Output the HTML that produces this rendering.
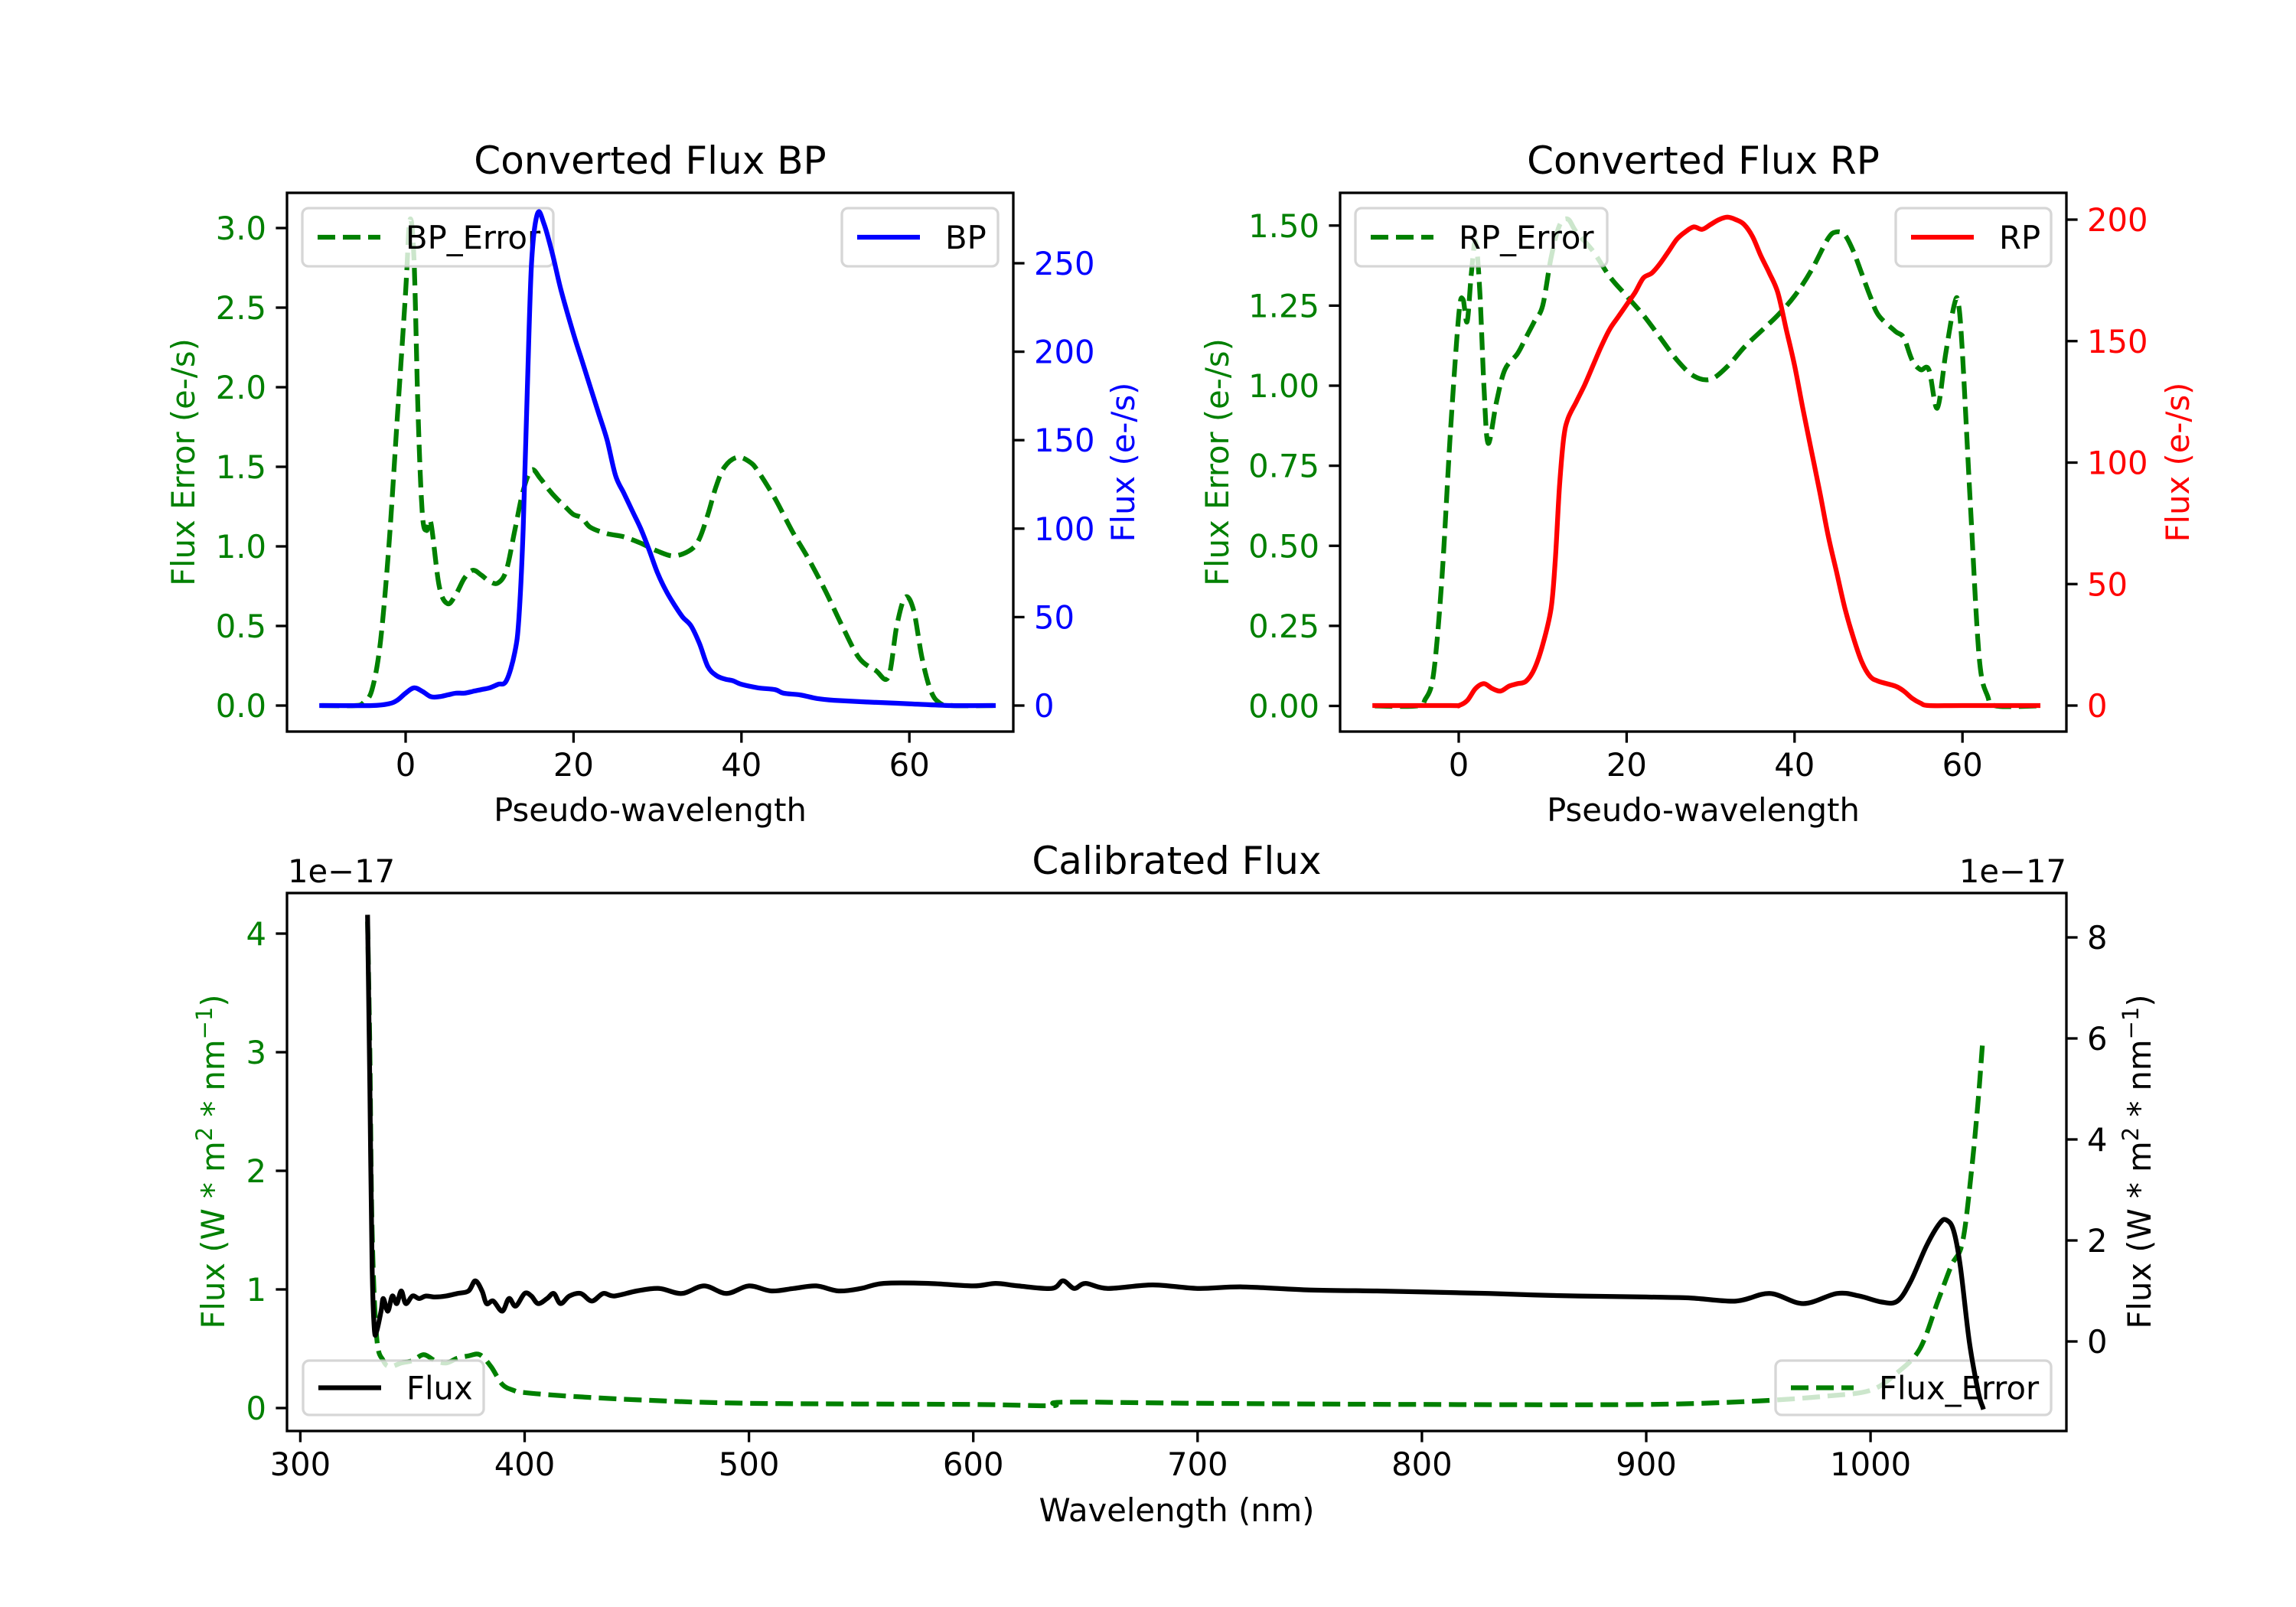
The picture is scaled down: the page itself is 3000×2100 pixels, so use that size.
<!DOCTYPE html>
<html><head><meta charset="utf-8">
<style>
html,body{margin:0;padding:0;background:#fff;}
svg{display:block;font-family:"DejaVu Sans","Liberation Sans",sans-serif;}
</style></head>
<body>
<svg id="s" width="3000" height="2100" viewBox="0 0 3000 2100" xmlns="http://www.w3.org/2000/svg">
<rect width="3000" height="2100" fill="#fff"/>
<g id="plot"></g>
<!-- Titles -->
<g font-size="50" fill="#000" text-anchor="middle">
<text x="849.5" y="227">Converted Flux BP</text>
<text x="2225.5" y="227">Converted Flux RP</text>
<text x="1537.5" y="1142">Calibrated Flux</text>
</g>
<g font-size="41.7" fill="#000" text-anchor="middle">
<text x="849.5" y="1073">Pseudo-wavelength</text>
<text x="2225.5" y="1073">Pseudo-wavelength</text>
<text x="1537.5" y="1988">Wavelength (nm)</text>
</g>
<!-- y labels -->
<g font-size="41.7" text-anchor="middle">
<text transform="translate(254,604) rotate(-90)" fill="#008000">Flux Error (e-/s)</text>
<text transform="translate(1482,604) rotate(-90)" fill="#0000ff">Flux (e-/s)</text>
<text transform="translate(1605,604) rotate(-90)" fill="#008000">Flux Error (e-/s)</text>
<text transform="translate(2860,604) rotate(-90)" fill="#ff0000">Flux (e-/s)</text>
<text transform="translate(293,1518) rotate(-90)" fill="#008000">Flux (W * m<tspan dy="-16" font-size="29">2</tspan><tspan dy="16"> * nm</tspan><tspan dy="-16" font-size="29">−1</tspan><tspan dy="16">)</tspan></text>
<text transform="translate(2810,1518) rotate(-90)" fill="#000">Flux (W * m<tspan dy="-16" font-size="29">2</tspan><tspan dy="16"> * nm</tspan><tspan dy="-16" font-size="29">−1</tspan><tspan dy="16">)</tspan></text>
</g>
<g font-size="41.7" fill="#000">
<text x="376" y="1153">1e−17</text>
<text x="2700" y="1153" text-anchor="end">1e−17</text>
</g>
</svg>
<script>
(function(){
var NS="http://www.w3.org/2000/svg";
var g=document.getElementById('plot');
function el(t,a,txt){var e=document.createElementNS(NS,t);for(var k in a)e.setAttribute(k,a[k]);if(txt!==undefined)e.textContent=txt;g.appendChild(e);return e;}
function smooth(pts){
 var d="M"+pts[0][0].toFixed(1)+","+pts[0][1].toFixed(1);
 for(var i=0;i<pts.length-1;i++){
  var p0=pts[i-1]||pts[i],p1=pts[i],p2=pts[i+1],p3=pts[i+2]||p2;
  var c1=[p1[0]+(p2[0]-p0[0])/6,p1[1]+(p2[1]-p0[1])/6];
  var c2=[p2[0]-(p3[0]-p1[0])/6,p2[1]-(p3[1]-p1[1])/6];
  d+=" C"+c1[0].toFixed(1)+","+c1[1].toFixed(1)+" "+c2[0].toFixed(1)+","+c2[1].toFixed(1)+" "+p2[0].toFixed(1)+","+p2[1].toFixed(1);
 }
 return d;
}
function line(data,fx,fy,color,dash){
 var pts=data.map(function(p){return [fx(p[0]),fy(p[1])];});
 var a={d:smooth(pts),fill:"none",stroke:color,"stroke-width":6.25,"stroke-linejoin":"round"};
 if(dash){a["stroke-dasharray"]="23,10";a["stroke-linecap"]="butt";}else a["stroke-linecap"]="square";
 el("path",a);
}
function legend(x,y,w,h,color,dash,label){
 el("rect",{x:x,y:y,width:w,height:h,rx:8,fill:"#fff","fill-opacity":0.8,stroke:"#cccccc","stroke-opacity":0.8,"stroke-width":3.3});
 var a={x1:x+20,x2:x+102,y1:y+h/2,y2:y+h/2,stroke:color,"stroke-width":6.25};
 if(dash)a["stroke-dasharray"]="23,10";
 el("line",a);
 el("text",{x:x+135,y:y+h/2+15,"font-size":41.7,fill:"#000"},label);
}
function frame(x0,y0,x1,y1){
 el("rect",{x:x0,y:y0,width:x1-x0,height:y1-y0,fill:"none",stroke:"#000","stroke-width":3.3});
}
function xticks(vals,fx,yb){
 vals.forEach(function(v){var x=fx(v);
  el("line",{x1:x,x2:x,y1:yb,y2:yb+14.6,stroke:"#000","stroke-width":3.3});
  el("text",{x:x,y:yb+58,"font-size":41.7,"text-anchor":"middle",fill:"#000"},String(v));});
}
function yticks(vals,fy,xa,side,color,fmt){
 vals.forEach(function(v){var y=fy(v);
  if(side<0){el("line",{x1:xa-14.6,x2:xa,y1:y,y2:y,stroke:"#000","stroke-width":3.3});
   el("text",{x:xa-27,y:y+15,"font-size":41.7,"text-anchor":"end",fill:color},fmt(v));}
  else{el("line",{x1:xa,x2:xa+14.6,y1:y,y2:y,stroke:"#000","stroke-width":3.3});
   el("text",{x:xa+27,y:y+15,"font-size":41.7,"text-anchor":"start",fill:color},fmt(v));}
 });
}
// ===== BP =====
var bpX=function(v){return 530+10.97*v;};
var bpYl=function(v){return 922-208*v;};
var bpYr=function(v){return 922-2.312*v;};
var bpErr=[[-10,0],[-6,0],[-5,0.02],[-4,0.1],[-3,0.4],[-2,1.0],[-1,1.8],[0,2.6],[0.5,3.05],[1,2.8],[1.5,1.8],[2,1.2],[2.5,1.1],[3,1.15],[4,0.75],[5,0.64],[6,0.7],[7,0.8],[8,0.85],[9,0.82],[10,0.78],[11,0.77],[12,0.85],[13,1.1],[14,1.35],[15,1.48],[16,1.43],[17,1.36],[18,1.3],[19,1.25],[20,1.2],[21,1.18],[22,1.12],[24,1.08],[26,1.06],[28,1.02],[30,0.97],[32,0.94],[34,0.98],[35,1.05],[36,1.2],[37,1.38],[38,1.5],[39.5,1.56],[41,1.53],[42,1.47],[44,1.3],[46,1.1],[48,0.92],[50,0.72],[52,0.5],[54,0.3],[56,0.22],[57.5,0.18],[58.5,0.5],[59.5,0.68],[60.5,0.6],[61.5,0.3],[62.5,0.1],[63.5,0.02],[65,0],[70,0]];
var bp=[[-10,0],[-4,0],[-2,1],[-1,3],[0,7],[1,10],[2,8],[3,5],[4,5],[5,6],[6,7],[7,7],[8,8],[9,9],[10,10],[11,12],[12,14],[13,30],[13.5,50],[14,100],[14.5,180],[15,250],[15.7,278],[16.5,272],[17.5,255],[18.5,235],[20,210],[21,195],[22,180],[23,165],[24,150],[25,130],[26,120],[27,110],[28,100],[29,88],[30,75],[31,65],[32,57],[33,50],[34,45],[35,35],[36,22],[37,17],[38,15],[39,14],[40,12],[42,10],[44,9],[45,7],[47,6],[49,4],[51,3],[55,2],[60,1],[65,0],[70,0]];
line(bpErr,bpX,bpYl,"#008000",true);
legend(395,272,328,76,"#008000",true,"BP_Error");
line(bp,bpX,bpYr,"#0000ff",false);
legend(1100,272,204,76,"#0000ff",false,"BP");
frame(375,252,1324,956);
xticks([0,20,40,60],bpX,956);
yticks([0,0.5,1,1.5,2,2.5,3],bpYl,375,-1,"#008000",function(v){return v.toFixed(1);});
yticks([0,50,100,150,200,250],bpYr,1324,1,"#0000ff",String);
// ===== RP =====
var rpX=function(v){return 1906+10.97*v;};
var rpYl=function(v){return 922.5-418.5*v;};
var rpYr=function(v){return 922-3.175*v;};
var rpErr=[[-10,0],[-5,0],[-4,0.02],[-3,0.1],[-2,0.4],[-1,0.85],[0,1.22],[0.5,1.27],[1,1.2],[1.5,1.35],[2,1.45],[2.5,1.3],[3,1.0],[3.5,0.82],[4.5,0.95],[5.5,1.05],[7,1.1],[8,1.15],[9,1.2],[10,1.25],[11,1.4],[12,1.5],[13,1.52],[14,1.48],[16,1.42],[18,1.34],[20,1.28],[22,1.22],[24,1.15],[26,1.08],[28,1.03],[30,1.02],[32,1.06],[34,1.12],[36,1.17],[38,1.22],[40,1.28],[42,1.36],[44,1.46],[45,1.48],[46,1.47],[47,1.42],[48,1.35],[49,1.28],[50,1.22],[52,1.17],[53,1.15],[54,1.08],[55,1.05],[56,1.05],[57,0.93],[58,1.1],[59,1.25],[59.5,1.26],[60,1.1],[61,0.6],[62,0.15],[63,0.03],[64,0],[69,0]];
var rp=[[-10,0],[-1,0],[0,0],[1,2],[2,7],[3,9],[4,7],[5,6],[6,8],[7,9],[8,10],[9,15],[10,25],[11,40],[11.5,60],[12,90],[12.5,110],[13,118],[14,125],[15,132],[16,140],[17,148],[18,155],[19,160],[20,165],[21,170],[22,176],[23,178],[24,182],[25,187],[26,192],[27,195],[28,197],[29,196],[30,198],[31,200],[32,201],[33,200],[34,198],[35,193],[36,185],[37,178],[38,170],[39,155],[40,140],[41,122],[42,105],[43,88],[44,70],[45,55],[46,40],[47,28],[48,18],[49,12],[50,10],[52,8],[53,6],[54,3],[55,1],[56,0],[60,0],[69,0]];
line(rpErr,rpX,rpYl,"#008000",true);
legend(1771,272,329,76,"#008000",true,"RP_Error");
line(rp,rpX,rpYr,"#ff0000",false);
legend(2477,272,203,76,"#ff0000",false,"RP");
frame(1751,252,2700,956);
xticks([0,20,40,60],rpX,956);
yticks([0,0.25,0.5,0.75,1,1.25,1.5],rpYl,1751,-1,"#008000",function(v){return v.toFixed(2);});
yticks([0,50,100,150,200],rpYr,2700,1,"#ff0000",String);
// ===== Calibrated =====
var cX=function(v){return 392.4+(v-300)*2.931;};
var cYl=function(v){return 1840-155*v;};
var cYr=function(v){return 1753-66*v;};
var err=[[330,4.1],[331,3.0],[332,1.5],[334,0.6],[337,0.4],[340,0.35],[345,0.38],[350,0.4],[355,0.45],[360,0.4],[365,0.38],[370,0.42],[375,0.44],[380,0.45],[385,0.35],[390,0.2],[395,0.15],[400,0.13],[420,0.1],[450,0.07],[500,0.04],[600,0.03],[635,0.02],[640,0.05],[700,0.04],[800,0.03],[900,0.03],[950,0.06],[980,0.1],[1000,0.15],[1012,0.3],[1022,0.5],[1030,0.9],[1036,1.2],[1041,1.4],[1045,2.0],[1048,2.6],[1050,3.1]];
var flux=[[330,8.4],[331,5],[332,1.5],[333,0.25],[334,0.2],[336,0.6],[337,0.85],[339,0.6],[341,0.9],[343,0.75],[345,1.0],[347,0.75],[350,0.9],[353,0.85],[356,0.9],[360,0.88],[365,0.9],[370,0.95],[375,1.0],[378,1.2],[381,1.0],[383,0.75],[386,0.8],[390,0.6],[393,0.85],[396,0.7],[400,0.95],[403,0.9],[406,0.75],[410,0.85],[413,0.95],[416,0.75],[420,0.9],[425,0.95],[430,0.8],[435,0.95],[440,0.9],[450,1.0],[460,1.05],[470,0.95],[480,1.1],[490,0.95],[500,1.1],[510,1.0],[520,1.05],[530,1.1],[540,1.0],[550,1.05],[560,1.15],[580,1.15],[600,1.1],[610,1.15],[620,1.1],[635,1.05],[640,1.2],[645,1.05],[650,1.15],[660,1.05],[680,1.12],[700,1.05],[720,1.08],[750,1.02],[780,1.0],[800,0.98],[830,0.95],[850,0.92],[870,0.9],[900,0.88],[920,0.86],[940,0.8],[955,0.95],[970,0.75],[985,0.95],[995,0.9],[1005,0.78],[1012,0.8],[1018,1.2],[1025,1.9],[1031,2.35],[1034,2.4],[1037,2.2],[1040,1.5],[1044,0.0],[1048,-1.0],[1050,-1.3]];
line(err,cX,cYl,"#008000",true);
legend(2320,1778,360,71,"#008000",true,"Flux_Error");
line(flux,cX,cYr,"#000000",false);
legend(396,1778,236,71,"#000000",false,"Flux");
frame(375,1167,2700,1870);
xticks([300,400,500,600,700,800,900,1000],cX,1870);
yticks([0,1,2,3,4],cYl,375,-1,"#008000",String);
yticks([0,2,4,6,8],cYr,2700,1,"#000",String);
})();
</script>
</body></html>
